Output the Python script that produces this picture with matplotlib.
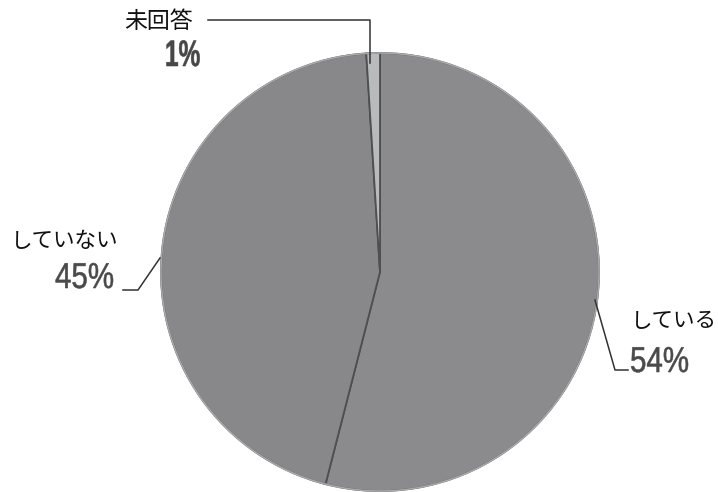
import matplotlib
matplotlib.use("Agg")
import matplotlib.pyplot as plt
from matplotlib.textpath import TextPath
from matplotlib.patches import PathPatch
from matplotlib.font_manager import FontProperties
from matplotlib.transforms import Affine2D

plt.rcParams['font.family'] = ['Noto Sans CJK JP', 'DejaVu Sans']

# 回答の内訳
labels = ["している", "していない", "未回答"]
values = [54, 45, 1]
pct_labels = ["54%", "45%", "1%"]
colors = ["#8b8b8e", "#88888b", "#b9babc"]

W, H = 718, 492
fig = plt.figure(figsize=(W / 100, H / 100), dpi=100)
ax = fig.add_axes([0, 0, 1, 1])


def py(y):
    # 画像のピクセル座標(上が0)をデータ座標に変換
    return H - y


wedges, _ = ax.pie(values, colors=colors, startangle=90, counterclock=False,
                   center=(380, py(272)), radius=219,
                   wedgeprops=dict(edgecolor="#4f4f51", linewidth=1.3))

# 外周の薄い縁
rim = plt.Circle((380, py(272)), 219, fill=False, edgecolor="#a9a9ab", linewidth=1.2)
ax.add_patch(rim)

ax.set_xlim(0, W)
ax.set_ylim(0, H)
ax.set_aspect("equal")
ax.axis("off")


def narrow_text(x, y_base, s, size, sx, weight="normal", color="#4a4a4a"):
    # 縦長の数字（横方向に縮めたテキストパス）
    fp = FontProperties(family="Liberation Sans", weight=weight)
    tp = TextPath((0, 0), s, size=size, prop=fp)
    tr = Affine2D().scale(sx, 1).translate(x, py(y_base))
    ax.add_patch(PathPatch(tr.transform_path(tp), facecolor=color, edgecolor=color,
                           linewidth=0.4))


line_kw = dict(color="#333333", linewidth=1.1)

# 未回答
ax.plot([208, 370, 370], [py(20), py(20), py(63)], **line_kw)
ax.text(124, py(22), labels[2], fontsize=16.5, ha="left", va="center", color="#111111")
narrow_text(165, 66, pct_labels[2], 37, 0.66, weight="bold", color="#474747")

# していない
ax.plot([123, 138, 160], [py(290), py(290), py(258)], **line_kw)
ax.text(11, py(241), labels[1], fontsize=15.5, ha="left", va="center", color="#111111")
narrow_text(55, 288, pct_labels[1], 36, 0.82)

# している
ax.plot([595, 615, 628], [py(300), py(370), py(370)], **line_kw)
ax.text(631, py(321), labels[0], fontsize=15.5, ha="left", va="center", color="#111111")
narrow_text(630, 372, pct_labels[0], 36, 0.82)

fig.savefig("out.png", dpi=100)
